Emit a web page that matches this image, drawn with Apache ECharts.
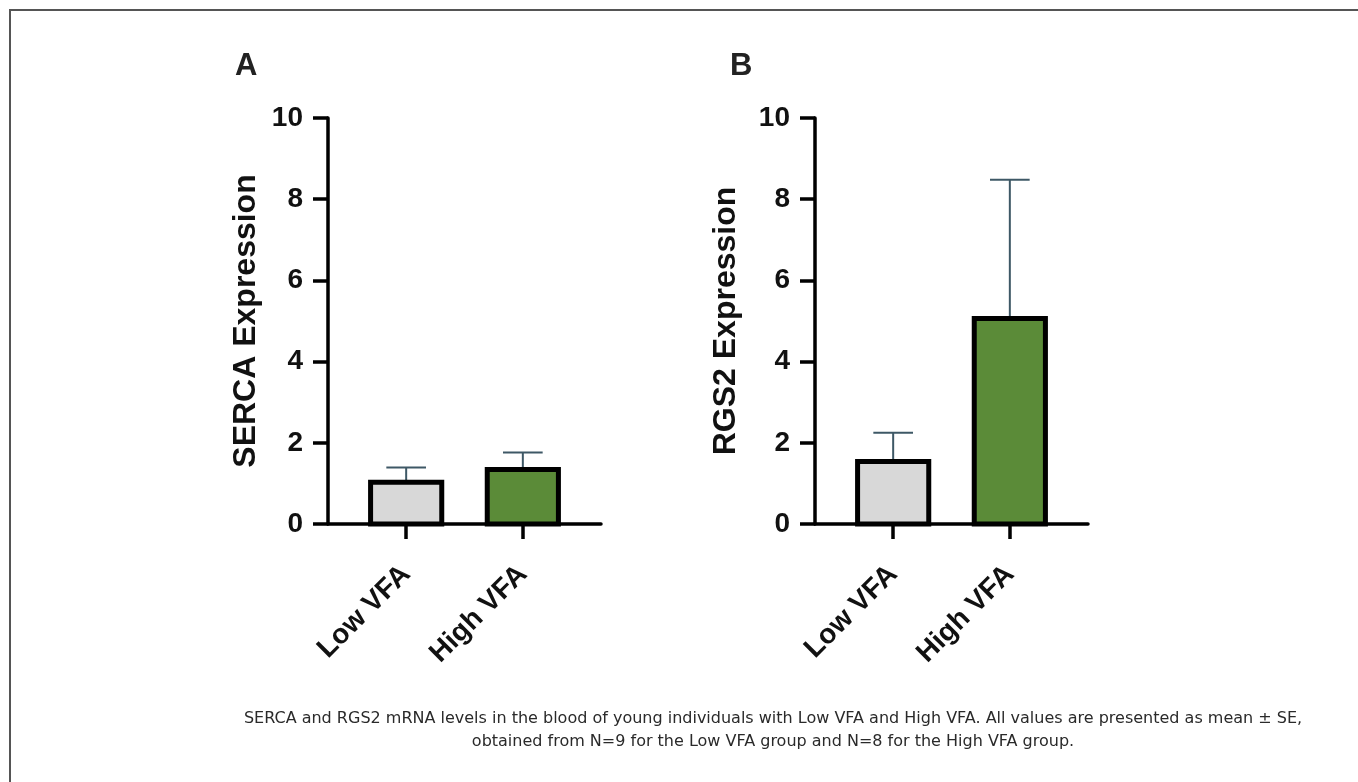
<!DOCTYPE html>
<html>
<head>
<meta charset="utf-8">
<script src="https://cdn.jsdelivr.net/npm/echarts@6/dist/echarts.min.js"></script>
<style>
html,body{margin:0;padding:0;background:#fff;}
#chart{width:1358px;height:782px;}
</style>
</head>
<body>
<div id="chart"></div>
<script>
// ---- data ----
const categories = ['Low VFA', 'High VFA'];
const sercaMean = [1.03, 1.34];
const sercaSE = [0.36, 0.42];
const rgs2Mean = [1.54, 5.06];
const rgs2SE = [0.71, 3.42];
const yTickValues = [0, 2, 4, 6, 8, 10];
const panelLabels = ['A', 'B'];
const yNames = ['SERCA Expression', 'RGS2 Expression'];
const captionLines = [
  'SERCA and RGS2 mRNA levels in the blood of young individuals with Low VFA and High VFA. All values are presented as mean \u00b1 SE,',
  'obtained from N=9 for the Low VFA group and N=8 for the High VFA group.'
];

// ---- styles ----
const barColors = ['#d8d8d8', '#5b8b38'];
const errColor = '#3e5866';
const AXIS_FONT = '"Liberation Sans", Arial, sans-serif';
const BAR_W = 0.61;
const CAP_W = 0.34;

function renderBar(params, api) {
  const x = api.value(0), m = api.value(1), se = api.value(2);
  const top = api.coord([x, m]);
  const base = api.coord([x, 0]);
  const errTop = api.coord([x, m + se]);
  const halfW = api.size([BAR_W, 0])[0] / 2;
  const capHalf = api.size([CAP_W, 0])[0] / 2;
  return {
    type: 'group',
    children: [
      {type: 'line', shape: {x1: top[0], y1: top[1], x2: errTop[0], y2: errTop[1]},
       style: {stroke: errColor, lineWidth: 2}},
      {type: 'line', shape: {x1: errTop[0] - capHalf, y1: errTop[1], x2: errTop[0] + capHalf, y2: errTop[1]},
       style: {stroke: errColor, lineWidth: 2}},
      {type: 'rect', shape: {x: top[0] - halfW, y: top[1], width: 2 * halfW, height: base[1] - top[1]},
       style: {fill: barColors[x], stroke: '#000', lineWidth: 5}}
    ]
  };
}

function xAxisCfg(gi) {
  return {
    type: 'value', gridIndex: gi, min: -0.67, max: 1.67,
    splitLine: {show: false},
    axisLine: {show: true, onZero: false, lineStyle: {color: '#000', width: 3.5}},
    axisTick: {show: true, customValues: [0, 1], length: 15, lineStyle: {color: '#000', width: 3.5}},
    axisLabel: {show: true, customValues: [0, 1], rotate: 45, margin: 46,
      formatter: v => categories[Math.round(v)] || '',
      fontFamily: AXIS_FONT, fontWeight: 'bold', fontSize: 28, color: '#111'}
  };
}
function yAxisCfg(gi, gap) {
  return {
    type: 'value', gridIndex: gi, min: 0, max: 10, interval: 2,
    splitLine: {show: false},
    name: yNames[gi], nameLocation: 'middle', nameGap: gap,
    nameTextStyle: {fontFamily: AXIS_FONT, fontWeight: 'bold', fontSize: 32, color: '#111'},
    axisLine: {show: true, onZero: false, lineStyle: {color: '#000', width: 3.5}},
    axisTick: {show: true, length: 15, lineStyle: {color: '#000', width: 3.5}},
    axisLabel: {margin: 25, fontFamily: AXIS_FONT, fontWeight: 'bold', fontSize: 28, color: '#111',
      formatter: v => yTickValues.indexOf(v) >= 0 ? String(v) : ''}
  };
}

const chart = echarts.init(document.getElementById('chart'), null, {renderer: 'canvas'});
chart.setOption({
  animation: false,
  backgroundColor: '#fff',
  grid: [
    {left: 328, top: 118, width: 273, height: 406},
    {left: 815, top: 118, width: 273, height: 406}
  ],
  xAxis: [xAxisCfg(0), xAxisCfg(1)],
  yAxis: [yAxisCfg(0, 66), yAxisCfg(1, 73)],
  title: [
    {text: panelLabels[0], left: 230, top: 46, textStyle: {fontFamily: AXIS_FONT, fontWeight: 'bold', fontSize: 31, color: '#222'}},
    {text: panelLabels[1], left: 725, top: 46, textStyle: {fontFamily: AXIS_FONT, fontWeight: 'bold', fontSize: 31, color: '#222'}}
  ],
  graphic: [
    {type: 'rect', shape: {x: 10, y: 10, width: 1400, height: 800}, style: {fill: 'none', stroke: '#555', lineWidth: 2}, silent: true},
    {type: 'text', x: 773, y: 719, style: {text: captionLines[0], textAlign: 'center', textVerticalAlign: 'middle',
      font: '16px "DejaVu Sans", Verdana, sans-serif', fill: '#2a2a2a'}},
    {type: 'text', x: 773, y: 742, style: {text: captionLines[1], textAlign: 'center', textVerticalAlign: 'middle',
      font: '16px "DejaVu Sans", Verdana, sans-serif', fill: '#2a2a2a'}}
  ],
  series: [
    {type: 'custom', xAxisIndex: 0, yAxisIndex: 0, renderItem: renderBar,
     data: categories.map((c, i) => [i, sercaMean[i], sercaSE[i]])},
    {type: 'custom', xAxisIndex: 1, yAxisIndex: 1, renderItem: renderBar,
     data: categories.map((c, i) => [i, rgs2Mean[i], rgs2SE[i]])}
  ]
});
</script>
</body>
</html>
